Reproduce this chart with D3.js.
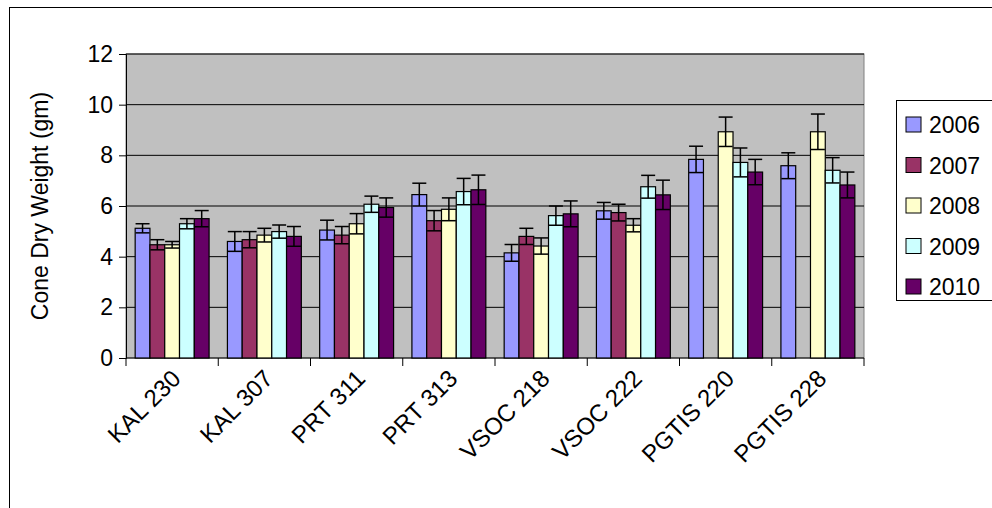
<!DOCTYPE html>
<html><head><meta charset="utf-8">
<script src="https://cdn.jsdelivr.net/npm/d3@7"></script>
<style>body{margin:0;background:#fff}svg text{font-family:"Liberation Sans",Arial,sans-serif}</style>
</head><body>
<svg id="chart" width="992" height="508"></svg>
<script>
"use strict";

const categories = ["KAL 230", "KAL 307", "PRT 311", "PRT 313", "VSOC 218", "VSOC 222", "PGTIS 220", "PGTIS 228"];
const years = ["2006", "2007", "2008", "2009", "2010"];
const colors = ["#9999ff", "#993366", "#ffffcc", "#ccffff", "#660066"];
// mean values per year across categories; null = missing
const v2006 = [5.12, 4.6, 5.05, 6.45, 4.15, 5.81, 7.84, 7.59];
const v2007 = [4.47, 4.67, 4.85, 5.42, 4.8, 5.74, null, null];
const v2008 = [4.47, 4.85, 5.3, 5.87, 4.42, 5.24, 8.93, 8.93];
const v2009 = [5.3, 4.99, 6.07, 6.57, 5.62, 6.76, 7.72, 7.41];
const v2010 = [5.5, 4.8, 5.94, 6.64, 5.69, 6.44, 7.34, 6.83];
// error bar half-widths
const e2006 = [0.18, 0.39, 0.39, 0.45, 0.33, 0.33, 0.52, 0.51];
const e2007 = [0.2, 0.32, 0.34, 0.4, 0.32, 0.33, null, null];
const e2008 = [0.13, 0.27, 0.4, 0.45, 0.32, 0.26, 0.58, 0.7];
const e2009 = [0.2, 0.26, 0.32, 0.52, 0.38, 0.45, 0.57, 0.5];
const e2010 = [0.32, 0.39, 0.38, 0.58, 0.51, 0.58, 0.5, 0.51];
const yTicks = [0, 2, 4, 6, 8, 10, 12];

const values = [v2006, v2007, v2008, v2009, v2010];
const errors = [e2006, e2007, e2008, e2009, e2010];

(function () {
  const svg = d3.select("#chart");
  svg.append("rect").attr("x", 9.5).attr("y", 7.5).attr("width", 990).attr("height", 510)
    .attr("fill", "none").attr("stroke", "#000");

  const left = 126, right = 864, top = 54, bottom = 358;
  const x = d3.scaleBand().domain(categories).range([left, right]).paddingInner(0);
  const xs = d3.scaleBand().domain(years).range([0, x.bandwidth()]).paddingOuter(0.62).paddingInner(0);
  const y = d3.scaleLinear().domain([0, 12]).range([bottom, top]);

  svg.append("rect").attr("x", left).attr("y", top).attr("width", right - left).attr("height", bottom - top)
    .attr("fill", "#c0c0c0").attr("stroke", "#808080");

  svg.append("g").selectAll("line").data(yTicks.slice(1)).join("line")
    .attr("x1", left).attr("x2", right).attr("y1", d => y(d)).attr("y2", d => y(d))
    .attr("stroke", "#000").attr("stroke-width", 1);

  const yAxis = svg.append("g").attr("transform", `translate(${left},0)`)
    .call(d3.axisLeft(y).tickValues(yTicks).tickSize(7).tickPadding(6));
  yAxis.attr("font-family", null).attr("font-size", null);
  yAxis.select(".domain").attr("stroke", "#000");
  yAxis.selectAll("text").attr("font-size", 23).attr("fill", "#000");

  svg.append("line").attr("x1", left).attr("x2", right).attr("y1", bottom).attr("y2", bottom).attr("stroke", "#000");
  svg.append("g").selectAll("line").data(d3.range(categories.length + 1)).join("line")
    .attr("x1", i => left + i * x.bandwidth()).attr("x2", i => left + i * x.bandwidth())
    .attr("y1", bottom).attr("y2", bottom + 8).attr("stroke", "#000");

  svg.append("g").selectAll("text").data(categories).join("text")
    .attr("transform", d => `translate(${x(d) + x.bandwidth() / 2 + 10},${bottom + 22}) rotate(-45)`)
    .attr("text-anchor", "end").attr("font-size", 24).text(d => d);

  years.forEach((yr, s) => {
    const g = svg.append("g");
    const data = categories.map((c, i) => ({ c, v: values[s][i], e: errors[s][i] })).filter(d => d.v != null);
    g.selectAll("rect").data(data).join("rect")
      .attr("x", d => x(d.c) + xs(yr)).attr("width", xs.bandwidth())
      .attr("y", d => y(d.v)).attr("height", d => bottom - y(d.v))
      .attr("fill", colors[s]).attr("stroke", "#000").attr("stroke-width", 1.2);
    const cx = d => x(d.c) + xs(yr) + xs.bandwidth() / 2;
    g.selectAll(null).data(data).join("line")
      .attr("x1", cx).attr("x2", cx).attr("y1", d => y(d.v - d.e)).attr("y2", d => y(d.v + d.e))
      .attr("stroke", "#000").attr("stroke-width", 1.5);
    [1, -1].forEach(sg => {
      g.selectAll(null).data(data).join("line")
        .attr("x1", d => cx(d) - 7).attr("x2", d => cx(d) + 7)
        .attr("y1", d => y(d.v + sg * d.e)).attr("y2", d => y(d.v + sg * d.e))
        .attr("stroke", "#000").attr("stroke-width", 1.5);
    });
  });

  svg.append("text").attr("transform", "translate(48,206) rotate(-90)")
    .attr("text-anchor", "middle").attr("font-size", 23).text("Cone Dry Weight (gm)");

  const lg = svg.append("g");
  lg.append("rect").attr("x", 896.5).attr("y", 100.5).attr("width", 100).attr("height", 200)
    .attr("fill", "#fff").attr("stroke", "#000");
  years.forEach((yr, i) => {
    const cy = 125 + i * 40.5;
    lg.append("rect").attr("x", 906).attr("y", cy - 8).attr("width", 15).attr("height", 15)
      .attr("fill", colors[i]).attr("stroke", "#000");
    lg.append("text").attr("x", 929).attr("y", cy + 8).attr("font-size", 23).text(yr);
  });
})();
</script>
</body></html>
